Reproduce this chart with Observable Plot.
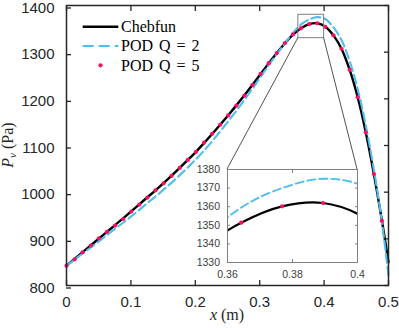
<!DOCTYPE html>
<html><head><meta charset="utf-8">
<script src="https://cdn.jsdelivr.net/npm/d3@7"></script>
<script src="https://cdn.jsdelivr.net/npm/@observablehq/plot@0.6"></script>
<style>
html,body{margin:0;padding:0;background:#fff;}
#wrap{position:relative;width:399px;height:328px;overflow:hidden;}
#wrap svg{position:absolute;}
</style></head><body><div id="wrap"></div>
<script>
// ---- data ----
const gridX = [0, 0.0126, 0.0251, 0.0377, 0.0502, 0.0628, 0.0754, 0.0879, 0.1005, 0.1130,
  0.1256, 0.1382, 0.1507, 0.1633, 0.1758, 0.1884, 0.2010, 0.2135, 0.2261, 0.2386,
  0.2512, 0.2638, 0.2763, 0.2889, 0.3014, 0.3140, 0.3266, 0.3391, 0.3517, 0.3642,
  0.3768, 0.3894, 0.4019, 0.4145, 0.4270, 0.4396, 0.4522, 0.4647, 0.4773, 0.4898];
const chebX = gridX.concat([0.5]);
const chebP = [842.5, 857, 871.5, 886, 900.5, 915, 929.5, 944, 959, 974,
  989, 1004, 1019.5, 1035.5, 1052, 1069, 1086.5, 1105, 1124.5, 1144.5,
  1165, 1186, 1207.5, 1230, 1253, 1276, 1298, 1319, 1337.5, 1351.4,
  1360.2, 1362.0, 1354.5, 1336, 1307.5, 1262.5, 1203.5, 1128.5, 1038.7, 938.6, 850];
const podQ2P = [842, 855.5, 868.5, 881.5, 894.5, 908, 921.5, 934.5, 948, 962,
  976.5, 990.5, 1005.5, 1020.5, 1036.5, 1053, 1070.5, 1089, 1109, 1130,
  1152, 1174.5, 1197.5, 1222, 1247, 1272, 1296, 1319, 1341.5, 1359.5,
  1370, 1375, 1371, 1353, 1326, 1281, 1221, 1143, 1048, 936, 822];
const podQ5X = gridX;
const podQ5P = [842.5, 856, 871, 885.5, 901, 915, 928.5, 942.5, 958.5, 973.5,
  988.5, 1004, 1019, 1035, 1052, 1069, 1086.5, 1106, 1125, 1144.5,
  1164.5, 1185.5, 1207, 1230, 1253.5, 1276.5, 1298, 1319.5, 1338, 1351.4,
  1360.2, 1362.0, 1354, 1336, 1307.3, 1262.2, 1203.4, 1128.3, 1038.7, 938.6];
const xTicks = [0, 0.1, 0.2, 0.3, 0.4, 0.5];
const yTicks = [800, 900, 1000, 1100, 1200, 1300, 1400];
const insetXDomain = [0.36, 0.4];
const insetYDomain = [1330, 1380];
const insetXTicks = [0.36, 0.38, 0.4];
const insetYTicks = [1330, 1340, 1350, 1360, 1370, 1380];
const seriesNames = ["Chebfun", "POD Q = 2", "POD Q = 5"];

const cheb = chebX.map((x, i) => ({x, p: chebP[i]}));
const q2 = chebX.map((x, i) => ({x, p: podQ2P[i]}));
const q5 = podQ5X.map((x, i) => ({x, p: podQ5P[i]}));

const BLACK = "#000000", BLUE = "#4dbeee", RED = "#ff0a64", AX = "#262626";
const SANS = "'Liberation Sans', Arial, Helvetica, sans-serif";
const SERIF = "'Liberation Serif', 'Times New Roman', serif";
const fmt = d => String(d);

function seriesMarks(lw, clip, dash) {
  return [
    Plot.line(cheb, {x: "x", y: "p", stroke: BLACK, strokeWidth: lw, curve: "catmull-rom", clip}),
    Plot.line(q2, {x: "x", y: "p", stroke: BLUE, strokeWidth: lw - 0.3, strokeDasharray: dash, curve: "catmull-rom", clip}),
    Plot.dot(q5, {x: "x", y: "p", r: 2.1, fill: RED, stroke: null, clip})
  ];
}

const main = Plot.plot({
  width: 399, height: 328,
  marginLeft: 66, marginRight: 11, marginTop: 5, marginBottom: 43,
  style: {fontFamily: SANS, fontSize: "15px", color: AX, background: "transparent", overflow: "visible"},
  x: {domain: [0, 0.5]},
  y: {domain: [800, 1400]},
  marks: [
    ...seriesMarks(2.4, false, "9,4"),
    Plot.rect([{x1: insetXDomain[0], x2: insetXDomain[1], y1: insetYDomain[0], y2: insetYDomain[1]}],
      {x1: "x1", x2: "x2", y1: "y1", y2: "y2", fill: "none", stroke: "#7f7f7f", strokeWidth: 1}),
    Plot.frame({stroke: AX, strokeWidth: 1.5}),
    Plot.axisX({ticks: xTicks, anchor: "bottom", tickSize: 5, dy: -5, tickPadding: 11, tickFormat: fmt, label: null, strokeWidth: 1.3, fill: AX, fontSize: 15}),
    Plot.axisX({ticks: xTicks, anchor: "top", tickSize: 5, dy: 5, tickFormat: () => "", label: null, strokeWidth: 1.3}),
    Plot.axisY({ticks: yTicks, anchor: "left", tickSize: 5, dx: 5, dy: 2.5, tickPadding: 12, tickFormat: fmt, label: null, strokeWidth: 1.3, fill: AX, fontSize: 15}),
    Plot.axisY({ticks: yTicks, anchor: "right", tickSize: 5, dx: -5, tickFormat: () => "", label: null, strokeWidth: 1.3})
  ]
});
main.style.left = "0px"; main.style.top = "0px";

const INSET_LEFT = 187, INSET_TOP = 160;
const inset = Plot.plot({
  width: 175, height: 125,
  marginLeft: 40, marginRight: 5, marginTop: 9, marginBottom: 23,
  style: {fontFamily: SANS, fontSize: "10.5px", color: "#404040", background: "transparent", overflow: "visible"},
  x: {domain: insetXDomain},
  y: {domain: insetYDomain},
  marks: [
    Plot.frame({fill: "white", stroke: null}),
    ...seriesMarks(2.2, true, "8,4"),
    Plot.frame({stroke: "#808080", strokeWidth: 1}),
    Plot.axisX({ticks: insetXTicks, anchor: "bottom", tickSize: 3, dy: -3, tickPadding: 8, tickFormat: fmt, label: null, stroke: "#808080", fill: "#404040", fontSize: 10.5}),
    Plot.axisX({ticks: insetXTicks, anchor: "top", tickSize: 3, dy: 3, tickFormat: () => "", label: null, stroke: "#808080"}),
    Plot.axisY({ticks: insetYTicks, anchor: "left", tickSize: 3, dx: 3, tickPadding: 7.5, tickFormat: fmt, label: null, stroke: "#808080", fill: "#404040", fontSize: 10.5}),
    Plot.axisY({ticks: insetYTicks, anchor: "right", tickSize: 3, dx: -3, tickFormat: () => "", label: null, stroke: "#808080"})
  ]
});
inset.style.left = INSET_LEFT + "px"; inset.style.top = INSET_TOP + "px";

const wrap = document.getElementById("wrap");
wrap.appendChild(main);
wrap.appendChild(inset);

// connector lines from zoom box to inset frame (via the plots' scales)
const mx = main.scale("x"), my = main.scale("y");
const ix = inset.scale("x"), iy = inset.scale("y");
const svg = d3.select(main);
insetXDomain.forEach(xv => {
  svg.append("line")
    .attr("x1", mx.apply(xv)).attr("y1", my.apply(insetYDomain[0]))
    .attr("x2", INSET_LEFT + ix.apply(xv)).attr("y2", INSET_TOP + iy.apply(insetYDomain[1]))
    .attr("stroke", "#262626").attr("stroke-width", 0.8);
});

// legend
const lg = svg.append("g");
const rows = [26.7, 46, 65.3];
const lx0 = 82.7, lx1 = 118.3, tx = 121;
lg.append("line").attr("x1", lx0).attr("x2", lx1).attr("y1", rows[0]).attr("y2", rows[0]).attr("stroke", BLACK).attr("stroke-width", 2.4);
lg.append("line").attr("x1", lx0).attr("x2", lx1).attr("y1", rows[1]).attr("y2", rows[1]).attr("stroke", BLUE).attr("stroke-width", 2.1).attr("stroke-dasharray", "11,5");
lg.append("circle").attr("cx", (lx0 + lx1) / 2).attr("cy", rows[2]).attr("r", 2.1).attr("fill", RED);
seriesNames.forEach((name, i) => {
  lg.append("text").attr("x", tx).attr("y", rows[i]).attr("dy", "0.34em")
    .attr("font-family", SERIF)
    .style("font-family", SERIF).style("font-size", "16px").style("fill", "#000")
    .style("text-anchor", "start").style("word-spacing", "2px").text(name);
});

// axis labels
const xl = svg.append("text")
  .style("font-family", SERIF).style("font-size", "16px").style("fill", AX).style("text-anchor", "middle")
  .attr("x", (mx.apply(0) + mx.apply(0.5)) / 2).attr("y", 320);
xl.append("tspan").style("font-style", "italic").text("x");
xl.append("tspan").text(" (m)");

const yc = (my.apply(800) + my.apply(1400)) / 2;
const yl = svg.append("text")
  .style("font-family", SERIF).style("font-size", "16px").style("fill", AX).style("text-anchor", "middle")
  .attr("transform", `translate(13,${yc}) rotate(-90)`);
yl.append("tspan").style("font-style", "italic").text("P");
yl.append("tspan").style("font-style", "italic").style("font-size", "11px").attr("dy", 3).text("v");
yl.append("tspan").attr("dy", -3).text(" (Pa)");
</script></body></html>
